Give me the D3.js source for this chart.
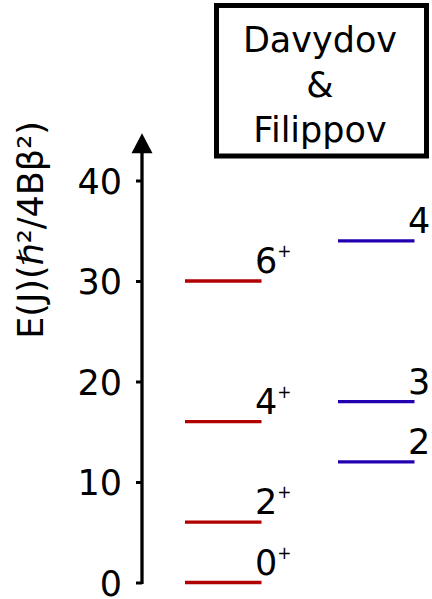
<!DOCTYPE html>
<html>
<head>
<meta charset="utf-8">
<script src="https://cdn.jsdelivr.net/npm/d3@7"></script>
<style>
  html, body { margin: 0; padding: 0; background: #fff; }
  svg { display: block; font-family: "DejaVu Sans", sans-serif; }
</style>
</head>
<body>
<svg id="chart" width="432" height="599"></svg>
<script>
// Ground-state band (red) and gamma band (blue) energies, E(J) in units of ħ²/4Bβ²
const groundSpins = ["0", "2", "4", "6"];
const groundEnergies = [0, 6, 16, 30];
const gammaSpins = ["2", "3", "4"];
const gammaEnergies = [12, 18, 34];
const yTicks = [0, 10, 20, 30, 40];
const yLabel = "E(J)(ℏ²/4Bβ²)";
const titleLines = ["Davydov", "&", "Filippov"];

const svg = d3.select("#chart");
const W = 432, H = 599;

const y = d3.scaleLinear().domain([0, 40]).range([582.5, 180.5]);
const x = d3.scaleLinear().domain([0, 4]).range([108.5, 414.5]);
const axisX = 142;
const yTop = 44.7;

// y axis with tick labels
const axis = d3.axisLeft(y).tickValues(yTicks).tickSize(6).tickSizeOuter(0).tickPadding(14);
const gAxis = svg.append("g").attr("transform", `translate(${axisX},0)`).call(axis);
gAxis.select(".domain").remove();
gAxis.selectAll(".tick line").attr("stroke", "#000").attr("stroke-width", 3);
gAxis.selectAll(".tick text")
  .attr("font-size", 35)
  .attr("font-family", "DejaVu Sans, sans-serif")
  .attr("fill", "#000")
  .attr("dy", "0.36em");

// vertical axis line with arrow head
svg.append("line")
  .attr("x1", axisX).attr("x2", axisX)
  .attr("y1", y(0) + 1.5).attr("y2", y(yTop) + 18)
  .attr("stroke", "#000").attr("stroke-width", 3.3);
const tipY = y(yTop);
svg.append("path")
  .attr("d", `M${axisX},${tipY} L${axisX - 10.5},${tipY + 20} L${axisX + 10.5},${tipY + 20} Z`)
  .attr("fill", "#000");

// axis title
svg.append("text")
  .attr("transform", `translate(43,230) rotate(-90)`)
  .attr("text-anchor", "middle")
  .attr("font-size", 35)
  .attr("fill", "#000")
  .text(yLabel);

// level lines and spin-parity labels
function drawBand(spins, energies, x0, x1, color) {
  const g = svg.append("g");
  const data = spins.map((s, i) => ({ s, e: energies[i] }));
  g.selectAll("line").data(data).join("line")
    .attr("x1", x(x0)).attr("x2", x(x1))
    .attr("y1", d => y(d.e)).attr("y2", d => y(d.e))
    .attr("stroke", color).attr("stroke-width", 3.3);
  const t = g.selectAll("text").data(data).join("text")
    .attr("x", x(x1) - 6.5)
    .attr("y", d => y(d.e) - 8)
    .attr("font-size", 35)
    .attr("fill", "#000");
  t.append("tspan").text(d => d.s);
  t.append("tspan").attr("font-size", 17).attr("dy", -16).text("+");
}
drawBand(groundSpins, groundEnergies, 1, 2, "#b00000");
drawBand(gammaSpins, gammaEnergies, 3, 4, "#2200b0");

// model name box
svg.append("rect")
  .attr("x", 216.5).attr("y", 5.5).attr("width", 210).attr("height", 150.5)
  .attr("fill", "#fff").attr("stroke", "#000").attr("stroke-width", 5);
svg.append("g").selectAll("text").data(titleLines).join("text")
  .attr("x", 320)
  .attr("y", (d, i) => 51.7 + i * 45)
  .attr("text-anchor", "middle")
  .attr("font-size", 35)
  .attr("fill", "#000")
  .text(d => d);
</script>
</body>
</html>
